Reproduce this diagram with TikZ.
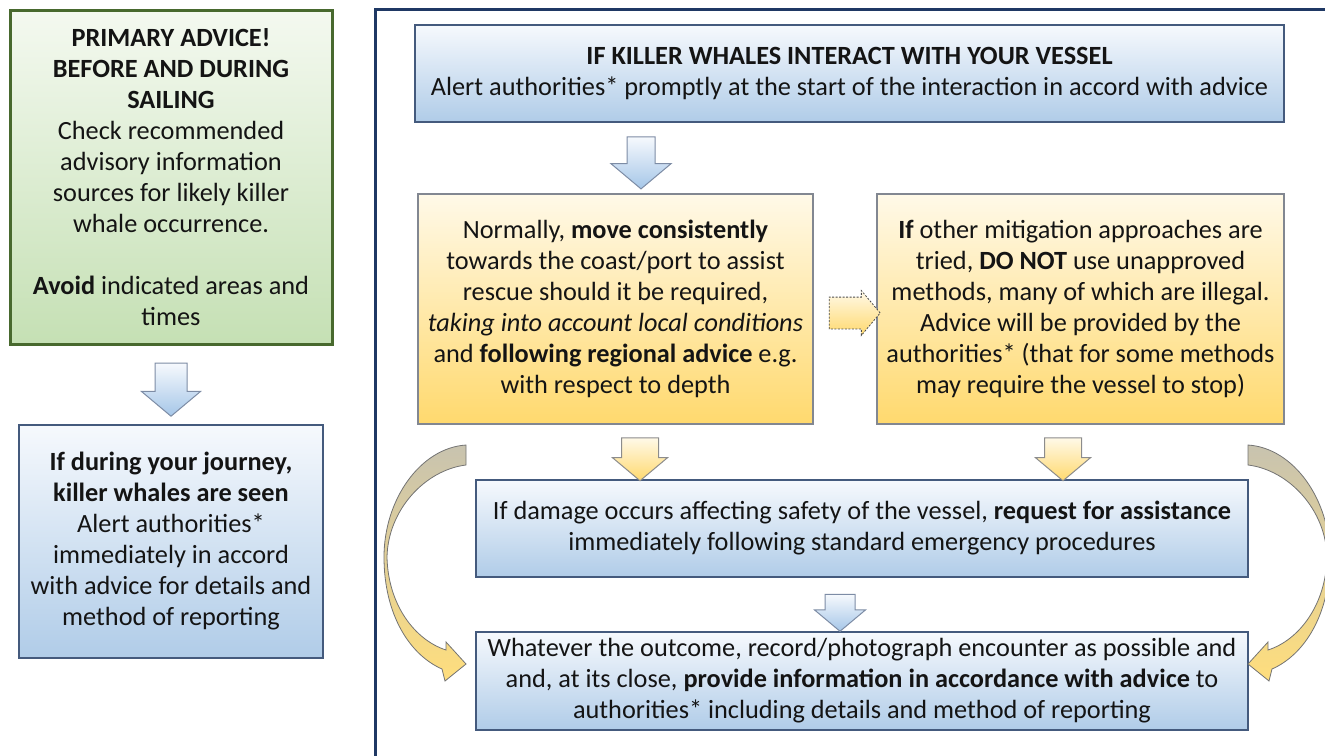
\documentclass[tikz,border=0pt]{standalone}
\usepackage{fontspec}
\setmainfont{Carlito}
\usetikzlibrary{shapes.arrows}

\definecolor{greenline}{RGB}{72,105,46}
\definecolor{greentop}{RGB}{244,249,240}
\definecolor{greenbot}{RGB}{197,224,180}
\definecolor{blueline}{RGB}{68,90,125}
\definecolor{bluetop}{RGB}{246,249,253}
\definecolor{bluebot}{RGB}{176,204,232}
\definecolor{arrowbot}{RGB}{165,198,232}
\definecolor{orangeline}{RGB}{130,135,145}
\definecolor{orangetop}{RGB}{255,249,232}
\definecolor{orangebot}{RGB}{255,217,110}
\definecolor{frameline}{RGB}{31,56,100}
\definecolor{arrowline}{RGB}{125,140,165}
\definecolor{yellowline}{RGB}{140,140,140}
\definecolor{arcgray}{RGB}{200,195,175}
\definecolor{arcyellow}{RGB}{255,222,125}

\begin{document}
\begin{tikzpicture}[x=1pt, y=-1pt,
    every node/.style={font=\fontsize{26.3}{31}\selectfont, align=center, inner sep=0pt, text=black!92},
    green box/.style={rectangle, draw=greenline, line width=3pt, top color=greentop, bottom color=greenbot},
    blue box/.style={rectangle, draw=blueline, line width=1.2pt, top color=bluetop, bottom color=bluebot},
    orange box/.style={rectangle, draw=orangeline, line width=1.2pt, top color=orangetop, bottom color=orangebot},
    down arrow/.style={single arrow, shape border rotate=270, single arrow tip angle=100, inner ysep=0pt, draw=arrowline, line width=1pt, top color=bluetop, bottom color=arrowbot},
    yellow arrow/.style={single arrow, shape border rotate=270, single arrow tip angle=100, inner ysep=0pt, draw=yellowline, line width=1pt, top color=orangetop, bottom color=orangebot},
    side arrow/.style={single arrow, single arrow tip angle=100, inner xsep=0pt, draw=black!70, dash pattern=on 2pt off 1.5pt, line width=0.8pt, top color=orangetop, bottom color=orangebot},
    curve arrow/.style={draw=black!55, line width=0.8pt, top color=arcgray, middle color=arcgray!40!arcyellow, bottom color=arcyellow}]

    \useasboundingbox (0,0) rectangle (1325,755);

    % frame round the right part
    \draw[frameline, line width=3pt] (375,760) |- (1330,9);

    \node[green box, minimum width=322pt, minimum height=334pt] at (171, 177) (primary) {\textbf{PRIMARY ADVICE!}\\ \textbf{BEFORE AND DURING}\\ \textbf{SAILING}\\ Check recommended\\ advisory information\\ sources for likely killer\\ whale occurrence.\\[31pt] \textbf{Avoid} indicated areas and\\ times};
    \node[blue box, minimum width=304pt, minimum height=233pt] at (171, 541.5) (seen) {\textbf{If during your journey,}\\ \textbf{killer whales are seen}\\ Alert authorities*\\ immediately in accord\\ with advice for details and\\ method of reporting};

    \node[blue box, minimum width=869pt, minimum height=97pt] at (849.5, 73.5) (interact) {\textbf{IF KILLER WHALES INTERACT WITH YOUR VESSEL}\\ Alert authorities* promptly at the start of the interaction in accord with advice};
    \node[orange box, minimum width=395pt, minimum height=230pt] at (615.5, 309) (move) {Normally, \textbf{move consistently}\\ towards the coast/port to assist\\ rescue should it be required,\\ \textit{taking into account local conditions}\\ and \textbf{following regional advice} e.g.\\ with respect to depth};
    \node[orange box, minimum width=407pt, minimum height=230pt] at (1080.5, 309) (other) {\textbf{If} other mitigation approaches are\\ tried, \textbf{DO NOT} use unapproved\\ methods, many of which are illegal.\\ Advice will be provided by the\\ authorities* (that for some methods\\ may require the vessel to stop)};
    \node[blue box, minimum width=772pt, minimum height=97pt] at (862, 528.5) (damage) {If damage occurs affecting safety of the vessel, \textbf{request for assistance}\\ immediately following standard emergency procedures};
    \node[blue box, minimum width=772pt, minimum height=98pt] at (862, 681) (record) {Whatever the outcome, record/photograph encounter as possible and\\ and, at its close, \textbf{provide information in accordance with advice} to\\ authorities* including details and method of reporting};

    % block arrows
    \node[down arrow, inner xsep=15.5pt, minimum height=53pt, minimum width=58pt, single arrow head extend=13.5pt] at (171, 383) (a1) {};
    \node[down arrow, inner xsep=13.5pt, minimum height=52pt, minimum width=59pt, single arrow head extend=16pt] at (641, 157) (a2) {};
    \node[yellow arrow, inner xsep=18pt, minimum height=43pt, minimum width=54pt, single arrow head extend=9pt] at (640, 451.5) (a3) {};
    \node[yellow arrow, inner xsep=18pt, minimum height=43pt, minimum width=54pt, single arrow head extend=9pt] at (1063, 451.5) (a4) {};
    \node[down arrow, inner xsep=14.5pt, minimum height=37pt, minimum width=50pt, single arrow head extend=10.5pt] at (840, 606.5) (a5) {};
    \node[side arrow, inner ysep=15.5pt, minimum height=51pt, minimum width=44pt, single arrow head extend=6.5pt] at (848, 313) (a6) {};

    % curved arrows
    \path[curve arrow] (466,445) -- (466,465) .. controls (425,470) and (388,510) .. (387,557)
        .. controls (388,605) and (415,640) .. (446,650) -- (446,642) -- (466,664) -- (445,681) -- (442,669)
        .. controls (410,655) and (384,615) .. (384,557) .. controls (384,500) and (420,448) .. (466,445) -- cycle;
    \path[curve arrow] (1248,445) -- (1248,465) .. controls (1289,470) and (1326,510) .. (1327,557)
        .. controls (1326,605) and (1299,640) .. (1268,650) -- (1268,642) -- (1248,664) -- (1269,681) -- (1272,669)
        .. controls (1304,655) and (1330,615) .. (1330,557) .. controls (1330,500) and (1294,448) .. (1248,445) -- cycle;

\end{tikzpicture}
\end{document}
